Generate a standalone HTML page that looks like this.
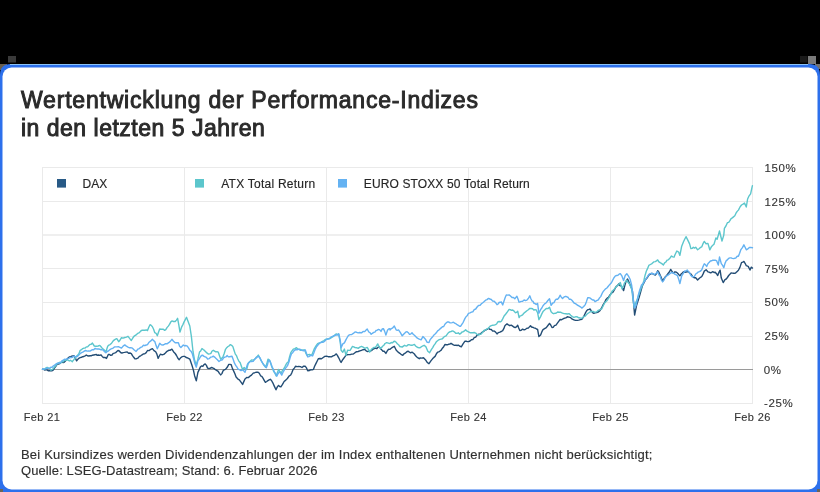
<!DOCTYPE html>
<html><head><meta charset="utf-8">
<style>
html,body{margin:0;padding:0;width:820px;height:492px;overflow:hidden;background:#000;}
body{position:relative;font-family:"Liberation Sans",sans-serif;}
.card{position:absolute;left:0;top:64px;width:820px;height:428px;box-sizing:border-box;border:3px solid #3273e6;border-radius:12px;background:#fff;}
.title{position:absolute;left:21px;top:86px;font-size:23px;font-weight:normal;-webkit-text-stroke:0.95px #2a2a2a;line-height:28px;color:#2b2b2b;white-space:nowrap;}
.l1{letter-spacing:0.8px}.l2{letter-spacing:0.5px}
.foot{position:absolute;left:21px;top:447.3px;font-size:13px;line-height:15.6px;color:#303030;-webkit-text-stroke:0.15px #303030;white-space:nowrap;}
.f1{letter-spacing:0.2px}.f2{letter-spacing:0.1px}
svg{position:absolute;left:0;top:0;}
.wc{will-change:transform;}
.ay{font-family:"Liberation Sans",sans-serif;font-size:11.5px;fill:#333;stroke:#333;stroke-width:0.12px;letter-spacing:0.6px;}
.ax{font-family:"Liberation Sans",sans-serif;font-size:11px;fill:#333;stroke:#333;stroke-width:0.12px;letter-spacing:0.4px;}
.lg{font-family:"Liberation Sans",sans-serif;font-size:12px;fill:#262626;stroke:#262626;stroke-width:0.15px;}
</style></head><body>
<svg width="820" height="492" viewBox="0 0 820 492" style="position:absolute;left:0;top:0">
  <rect x="8" y="56" width="8" height="6.5" fill="#3a3a3a"/>
  <rect x="800" y="56" width="7.5" height="6.5" fill="#1a1a1a"/>
  <rect x="808" y="56" width="8" height="8" fill="#7a7a7a"/>
  <rect x="0" y="64" width="7" height="6" fill="#6a6050"/>
  <rect x="815" y="64" width="5" height="5" fill="#707070"/>
  <path d="M0,492 L0,75 Q0,64 11,64 L809,64 Q820,64 820,75 L820,492 Z" fill="#2d70ec"/>
  <rect x="0" y="489" width="3" height="3" fill="#6a6458"/>
  <rect x="817" y="489" width="3" height="3" fill="#6a6458"/>
  <line x1="10" y1="64.5" x2="808" y2="64.5" stroke="#8cc4f8" stroke-width="1"/>
  <rect x="2.5" y="67.5" width="815" height="422" rx="9" ry="9" fill="#fff"/>
</svg>
<div class="title wc"><span class="l1">Wertentwicklung der Performance-Indizes</span><br><span class="l2">in den letzten 5 Jahren</span></div>
<svg class="wc" width="820" height="492" viewBox="0 0 820 492">
  <g stroke="#eaeaea" stroke-width="1" fill="none" shape-rendering="crispEdges">
    <line x1="42.5" y1="167.5" x2="753" y2="167.5"/>
    <line x1="42.5" y1="201.5" x2="753" y2="201.5"/>
    <line x1="42.5" y1="235" x2="753" y2="235" shape-rendering="geometricPrecision" stroke-width="1.3"/>
    <line x1="42.5" y1="268.5" x2="753" y2="268.5"/>
    <line x1="42.5" y1="302.5" x2="753" y2="302.5"/>
    <line x1="42.5" y1="336.5" x2="753" y2="336.5"/>
    <line x1="42.5" y1="403.5" x2="753" y2="403.5"/>
    <line x1="42.5" y1="167" x2="42.5" y2="403.5"/>
    <line x1="184.5" y1="167" x2="184.5" y2="403.5"/>
    <line x1="326.5" y1="167" x2="326.5" y2="403.5"/>
    <line x1="468.5" y1="167" x2="468.5" y2="403.5"/>
    <line x1="610.5" y1="167" x2="610.5" y2="403.5"/>
    <line x1="752.5" y1="167" x2="752.5" y2="403.5"/>
  </g>
  <line x1="42.5" y1="369.5" x2="753" y2="369.5" stroke="#9a9a9a" stroke-width="1" shape-rendering="crispEdges"/>
  <rect x="57" y="179" width="9" height="8.6" fill="#285a86"/>
  <text class="lg" x="82.6" y="187.6">DAX</text>
  <rect x="195" y="179" width="9" height="8.6" fill="#5cc6cc"/>
  <text class="lg" x="221.2" y="187.6" letter-spacing="0.25">ATX Total Return</text>
  <rect x="338" y="179" width="9" height="8.6" fill="#64b2f2"/>
  <text class="lg" x="363.8" y="187.6" letter-spacing="0.12">EURO STOXX 50 Total Return</text>
  <g class="ay">
    <text x="764.4" y="172">150%</text>
    <text x="764.4" y="205.6">125%</text>
    <text x="764.4" y="239.2">100%</text>
    <text x="764.4" y="272.7">75%</text>
    <text x="764.4" y="306.3">50%</text>
    <text x="764.4" y="340">25%</text>
    <text x="763.7" y="373.6">0%</text>
    <text x="764.0" y="407.3">-25%</text>
  </g>
  <g class="ax" text-anchor="middle">
    <text x="42" y="421">Feb 21</text>
    <text x="184.5" y="421">Feb 22</text>
    <text x="326.5" y="421">Feb 23</text>
    <text x="468.5" y="421">Feb 24</text>
    <text x="610.5" y="421">Feb 25</text>
    <text x="752.5" y="421">Feb 26</text>
  </g>
  <g fill="none" stroke-width="1.4" stroke-linejoin="round" stroke-linecap="round">
    <!--SERIES-->
    <path stroke="#234d75" d="M42.5,369.3 43.7,369.4 44.9,370.1 46.1,369.7 47.3,370.1 48.5,370.8 49.8,370.8 51.0,370.7 52.2,370.7 53.4,369.9 54.6,367.8 55.9,366.2 57.1,364.4 58.3,364.0 59.9,363.6 61.5,362.1 63.2,362.6 64.4,362.0 65.6,360.7 66.8,359.5 68.0,358.1 69.3,356.9 70.5,356.8 71.7,356.1 72.9,355.9 74.1,355.8 75.4,357.9 76.6,360.9 77.8,359.3 79.0,358.2 80.2,357.6 81.5,357.3 82.7,356.7 83.9,356.5 85.1,355.8 86.3,355.0 87.6,355.8 88.8,356.0 90.0,355.8 91.2,355.8 92.4,355.2 93.7,355.0 94.9,354.8 96.1,354.4 97.3,355.4 98.5,355.0 99.8,355.4 101.0,354.8 102.2,356.4 103.4,357.5 104.9,357.4 106.5,358.4 108.3,354.5 109.5,354.5 110.7,355.4 112.0,355.0 113.2,353.4 114.4,353.1 115.6,352.7 116.8,351.5 118.0,350.4 119.3,351.0 120.6,352.5 121.9,353.1 123.1,352.6 124.5,352.4 125.8,352.1 127.2,351.9 128.6,353.2 129.9,353.0 131.3,353.6 132.5,355.7 133.7,357.3 134.9,358.8 136.1,358.9 137.8,358.2 139.4,356.4 140.7,355.8 142.1,354.8 143.5,353.9 144.8,353.7 146.2,352.6 147.5,350.5 149.1,350.6 150.8,349.3 152.4,348.6 154.0,350.6 155.7,351.8 156.9,354.1 158.1,358.4 159.3,356.0 160.5,354.1 162.2,354.8 163.8,354.4 165.4,353.0 167.0,351.3 168.7,350.3 170.3,350.2 171.9,349.2 173.5,351.7 175.2,353.5 176.5,355.5 177.9,358.2 179.2,359.7 180.4,358.1 181.7,356.9 183.3,356.4 184.9,356.4 186.1,357.5 187.3,357.8 188.5,358.3 189.8,359.1 191.0,362.6 192.2,366.1 193.4,370.0 194.6,375.7 196.3,380.8 197.9,372.4 199.1,369.9 200.3,367.1 201.5,365.9 202.8,366.4 204.0,364.6 205.2,363.9 206.4,365.4 207.6,368.1 208.9,368.5 210.1,368.4 211.3,367.5 212.5,367.8 213.7,368.3 215.0,369.4 216.6,370.3 218.2,371.4 219.4,373.4 220.7,374.9 221.9,373.6 223.1,370.8 224.3,369.7 225.5,369.4 227.2,367.3 228.8,364.4 230.0,364.4 231.2,364.7 232.4,368.4 233.7,371.1 234.9,373.7 236.1,377.1 237.7,378.8 239.3,379.8 241.0,382.2 242.6,384.4 243.8,381.6 245.0,379.0 246.7,377.5 248.3,377.6 249.9,376.2 251.5,375.1 253.2,373.1 254.8,372.7 256.5,372.2 258.1,372.2 259.3,373.3 260.6,375.8 261.8,376.3 263.0,378.2 264.2,380.3 265.4,382.3 266.7,381.5 267.9,380.6 269.1,379.9 270.3,379.3 271.5,380.5 272.8,382.8 274.4,386.4 276.0,389.8 277.2,387.1 278.5,385.4 279.7,386.5 280.9,386.9 282.5,384.4 284.1,381.5 285.8,380.1 287.4,378.5 289.0,376.1 290.7,375.0 291.9,372.6 293.1,369.5 294.3,368.1 295.5,366.3 297.2,366.6 298.8,366.4 300.4,366.6 302.0,367.5 303.7,366.1 305.3,366.3 306.5,367.9 307.7,370.8 309.3,370.5 311.0,369.7 312.2,369.9 313.4,369.4 314.6,366.3 315.9,363.6 317.1,361.2 318.3,358.8 319.9,358.5 321.5,358.8 323.2,357.5 324.8,356.4 326.5,356.2 328.1,356.7 329.8,356.8 331.4,356.9 333.0,355.9 334.6,355.3 336.3,353.9 337.5,355.6 338.7,357.8 339.9,360.3 341.1,362.5 342.4,360.2 343.6,358.5 344.8,356.9 346.0,355.2 347.2,354.7 348.5,354.6 350.1,354.6 351.7,354.1 353.3,354.0 355.0,352.7 356.6,351.7 358.2,351.5 359.8,350.9 361.5,350.3 363.1,349.7 364.7,349.4 365.9,350.6 367.2,351.5 368.8,351.4 370.4,351.1 372.0,350.1 373.7,348.8 375.3,348.0 376.9,348.7 378.1,347.1 379.3,346.9 380.6,348.7 381.8,349.9 383.0,351.3 384.2,351.2 385.9,353.4 387.5,350.5 388.7,349.2 389.9,349.4 390.0,349.3 391.2,348.3 392.4,347.4 394.3,346.3 396.1,350.0 397.3,351.3 398.5,352.4 399.8,353.3 401.0,354.3 402.8,355.3 404.0,353.8 405.2,353.2 407.1,351.5 408.3,351.3 409.5,352.2 410.7,352.8 412.0,352.2 413.2,353.0 414.4,354.0 415.6,355.8 416.8,357.0 418.0,357.8 419.3,358.7 420.5,357.9 421.7,358.1 423.5,357.8 425.4,359.7 427.2,362.4 429.0,363.7 430.9,360.9 432.7,358.6 433.9,357.4 435.1,356.4 436.3,354.0 437.6,352.2 438.8,351.8 440.0,351.0 441.2,350.1 442.4,348.2 443.7,346.7 444.9,344.5 446.1,344.7 447.3,344.8 448.5,344.3 449.8,344.1 451.0,343.3 452.2,344.1 453.4,344.9 454.6,345.4 455.9,345.1 457.1,345.5 458.3,345.1 459.5,346.0 461.3,346.8 463.2,343.7 465.0,341.1 466.2,341.3 467.4,341.6 468.5,341.6 470.0,341.0 471.4,339.8 472.8,339.6 474.2,337.7 475.7,337.1 477.1,335.1 478.5,334.3 479.9,334.3 481.4,332.9 482.8,331.9 484.2,330.9 485.6,330.0 487.0,329.4 488.5,328.3 489.9,329.4 491.3,329.5 492.7,331.1 494.2,331.0 495.6,332.1 497.0,333.9 498.4,332.6 499.9,332.1 501.3,331.5 502.7,330.7 503.8,328.7 504.8,325.9 505.9,324.7 507.0,323.9 508.4,324.9 509.8,325.7 511.2,325.1 512.7,326.1 514.1,327.2 515.5,327.5 516.6,326.6 517.7,325.2 518.7,328.0 519.8,330.5 521.2,330.3 522.6,329.1 524.1,329.9 525.5,329.3 526.9,328.3 528.3,328.1 529.4,326.9 530.5,325.7 531.5,327.0 532.6,327.2 534.0,327.9 535.4,328.2 536.5,329.0 537.6,329.4 538.9,336.6 540.6,334.9 541.8,331.9 543.0,329.7 544.6,328.7 546.3,327.6 547.9,325.5 549.5,323.4 550.7,325.0 552.0,327.5 553.2,327.4 554.4,325.7 556.0,325.1 557.6,322.9 558.9,321.1 560.1,319.5 561.3,319.8 562.5,319.2 564.1,318.3 565.8,317.9 567.4,316.8 569.0,317.1 570.7,317.7 572.3,319.2 573.9,319.8 575.5,320.4 577.2,320.4 578.8,320.1 580.4,319.6 582.0,319.2 583.7,316.6 585.3,313.2 586.5,311.0 587.7,309.6 588.9,309.5 590.2,309.0 591.4,311.1 592.6,312.6 593.8,313.3 595.0,312.9 596.7,312.5 598.3,312.0 599.9,310.7 601.5,308.2 603.2,304.6 604.8,302.2 606.0,299.4 607.2,298.2 608.5,297.3 609.8,295.1 611.4,293.2 613.0,292.2 614.6,289.3 616.3,286.4 617.5,285.7 618.7,283.9 619.9,285.6 621.1,285.9 622.4,288.0 623.6,290.6 624.8,285.6 626.0,281.5 627.6,279.0 628.9,282.1 630.1,284.9 631.3,287.4 632.5,291.2 633.6,303.4 634.6,315.0 636.6,305.4 637.8,301.5 639.0,297.7 640.7,291.8 642.3,286.0 643.9,283.0 645.5,279.7 647.2,277.8 648.8,275.2 650.4,274.2 652.0,273.3 653.7,274.3 655.3,275.0 656.5,273.6 657.7,270.7 658.9,272.2 660.2,275.3 661.4,277.9 662.6,281.1 663.8,279.0 665.0,277.3 666.7,275.4 668.3,273.2 669.5,271.8 670.7,269.4 672.0,271.3 673.2,273.1 675.0,271.8 676.2,272.2 677.4,273.0 678.7,274.5 679.9,275.8 681.1,274.1 682.3,273.0 683.5,271.8 684.8,272.3 686.0,272.0 687.2,271.7 688.4,271.7 689.6,273.0 690.9,274.0 692.1,275.6 693.3,277.1 694.5,277.8 695.7,277.8 697.6,280.0 699.4,278.2 700.6,277.3 701.8,276.5 703.0,274.1 704.3,271.1 706.1,269.8 707.9,271.8 709.1,272.2 710.4,272.8 711.6,272.5 712.8,271.7 714.0,272.5 715.2,272.2 716.5,273.7 717.7,275.5 718.9,272.4 720.1,270.2 721.3,278.1 723.2,282.6 725.0,279.6 726.2,279.0 727.4,277.5 728.7,275.5 729.9,274.3 731.1,272.9 732.3,273.1 733.5,273.2 734.8,273.4 736.0,272.6 737.2,271.4 738.4,270.3 739.9,267.4 741.5,262.6 742.7,262.1 743.9,261.5 745.1,263.3 746.3,265.7 748.2,266.4 750.0,270.0 751.2,267.2 752.5,268.1"/>
    <path stroke="#5cc6cc" d="M42.5,369.3 43.7,369.2 44.9,368.9 46.1,367.8 47.3,367.5 48.5,368.1 49.8,368.7 51.0,370.2 52.2,369.5 53.4,368.5 54.6,366.9 55.9,365.5 57.1,363.8 58.3,363.0 59.5,362.3 60.7,363.0 62.0,361.5 63.2,361.7 64.4,360.3 65.6,360.3 66.8,360.0 68.0,360.0 69.3,361.0 70.5,360.3 72.3,361.7 74.1,359.3 75.4,357.9 76.6,356.0 77.8,355.1 79.0,353.5 80.2,350.3 81.5,349.7 82.7,348.6 83.9,348.1 85.1,348.0 86.3,346.9 87.6,346.9 88.8,345.5 90.0,344.4 91.2,344.3 92.4,343.1 94.3,346.0 95.5,346.3 96.7,346.2 98.2,346.0 99.8,345.4 101.0,346.8 102.2,348.2 104.0,349.8 105.9,351.9 107.7,346.3 108.9,345.1 110.1,344.6 111.6,343.2 113.2,340.9 114.4,339.9 115.6,339.2 116.8,338.7 118.7,341.7 120.1,340.0 121.5,337.7 123.1,338.1 124.8,337.5 126.4,337.1 128.0,336.3 129.6,338.4 131.3,340.5 132.9,337.8 134.5,335.8 136.1,334.9 137.8,333.3 139.4,332.7 140.6,331.1 141.8,330.3 143.5,330.1 145.1,330.2 146.3,329.9 147.5,330.6 148.7,327.5 150.0,324.7 151.2,325.4 152.4,326.7 153.6,329.2 154.8,332.7 156.1,333.3 157.3,335.7 158.5,332.3 159.7,328.9 160.9,329.2 162.2,329.3 163.4,329.3 164.6,330.4 165.8,329.6 167.0,327.6 168.3,326.1 169.5,324.3 170.7,322.1 171.9,320.9 173.5,321.5 175.2,321.5 176.4,320.1 177.6,318.3 178.8,324.8 180.0,332.1 181.7,326.8 182.9,324.6 184.1,321.9 185.3,319.6 186.5,317.3 188.1,321.6 189.8,326.0 191.4,336.6 193.0,351.5 194.6,360.3 196.3,364.9 197.9,359.2 199.5,352.1 200.7,350.9 202.0,348.5 203.2,349.5 204.4,350.4 206.0,352.1 207.2,353.1 208.5,354.1 209.7,353.9 210.9,353.4 212.1,351.0 213.3,350.3 214.6,351.1 215.8,351.9 217.0,351.6 218.2,352.1 219.4,355.5 220.7,359.2 221.9,358.0 223.1,356.6 224.3,353.2 225.5,349.3 226.7,347.7 228.0,346.5 229.2,345.8 230.4,344.6 231.6,345.3 232.8,346.4 234.1,350.5 235.3,354.1 236.5,355.7 237.7,358.8 238.9,361.1 240.2,362.8 241.4,366.3 242.6,369.6 244.2,367.5 245.4,368.8 246.7,369.5 248.3,363.1 249.9,361.5 251.5,359.9 253.2,360.1 254.8,359.3 255.9,357.5 257.1,356.7 258.3,355.1 259.5,357.4 260.7,359.8 262.0,362.0 263.2,364.0 264.4,365.8 265.6,367.3 266.8,363.8 268.0,359.1 269.7,360.3 271.3,365.4 272.5,368.5 273.7,371.4 275.0,373.4 276.2,375.9 277.4,372.8 278.6,369.5 279.8,371.5 281.1,373.2 282.3,370.8 283.5,369.3 284.7,367.1 285.9,364.7 287.2,362.7 288.4,361.7 289.6,356.6 290.8,352.6 292.0,350.9 293.3,349.1 294.9,348.6 296.5,347.6 297.7,349.0 298.9,349.2 300.2,350.2 301.4,350.3 303.0,350.0 304.6,349.9 305.9,353.3 307.1,355.4 308.3,354.6 309.5,354.4 310.7,355.1 312.0,354.6 313.2,351.5 314.4,348.6 316.0,345.8 317.6,343.6 319.3,342.9 320.9,342.6 322.5,341.4 324.1,340.6 325.3,339.4 326.5,339.1 328.1,338.7 329.8,338.7 331.4,337.7 333.0,336.7 334.6,335.2 336.3,333.9 337.5,334.4 338.7,334.2 340.3,342.7 341.1,350.2 342.8,352.3 344.4,349.1 346.0,355.4 347.6,350.2 348.9,350.4 350.1,350.3 351.3,348.3 352.5,346.4 353.7,346.9 355.0,347.5 356.6,347.7 358.2,348.4 359.8,347.1 361.5,346.4 363.1,347.1 364.7,348.3 365.9,347.8 367.2,347.4 368.4,349.4 369.6,352.1 370.8,350.2 372.0,348.7 373.7,347.5 375.3,347.4 376.5,345.9 377.7,343.9 378.9,346.4 380.2,348.4 381.4,347.7 382.6,346.2 383.8,345.3 385.0,343.5 386.7,342.6 388.3,343.1 390.0,343.6 391.2,342.5 392.4,342.9 393.7,341.5 394.9,341.2 396.1,342.2 397.3,343.8 398.5,344.7 399.8,346.5 401.0,346.8 402.2,347.1 403.4,346.1 404.6,345.3 405.9,346.0 407.1,345.7 408.3,344.6 409.5,344.8 410.7,345.2 412.0,345.3 413.2,344.8 414.4,344.4 415.6,346.0 416.8,346.9 418.0,347.5 419.3,347.9 420.5,347.5 421.7,346.5 422.9,345.8 424.1,345.3 426.0,346.9 427.8,351.3 429.6,352.7 431.5,349.3 432.7,347.6 433.9,345.4 435.1,343.9 436.3,341.8 437.6,340.7 438.8,339.8 440.0,339.4 441.2,339.1 442.4,338.8 443.7,337.2 444.9,336.3 446.1,335.8 447.3,334.2 448.5,332.6 449.8,331.8 451.0,331.6 452.2,330.9 453.4,331.2 454.6,332.1 455.9,333.4 457.1,333.3 458.3,332.8 459.5,334.0 460.7,333.5 462.0,332.0 463.2,331.8 464.4,330.9 465.6,329.7 467.1,331.2 468.5,331.8 470.0,332.7 471.4,332.8 472.8,332.8 474.2,332.5 475.7,333.1 477.1,334.4 478.5,335.1 479.9,334.3 481.4,333.8 482.8,331.9 484.2,330.3 485.6,330.1 487.0,328.8 488.5,328.1 489.9,326.4 491.3,325.6 492.7,325.2 494.2,325.1 495.6,324.7 496.7,323.8 497.7,322.0 499.1,321.5 500.6,321.8 501.6,320.9 502.7,318.9 504.1,316.0 505.6,314.2 506.7,312.8 507.9,311.1 509.1,309.4 510.3,309.7 511.5,310.4 512.7,310.0 514.1,311.1 515.5,312.7 516.6,312.3 517.7,311.2 519.1,317.6 520.1,315.9 521.2,315.6 522.6,314.8 524.1,313.0 525.5,311.9 526.9,310.7 528.3,309.7 529.8,308.4 531.2,308.5 532.6,308.8 533.8,310.0 535.0,309.7 536.2,309.9 537.6,312.7 538.9,319.7 540.6,316.6 541.8,313.9 543.0,311.6 544.6,310.1 546.3,308.4 547.9,308.6 549.5,307.2 551.1,311.8 552.4,313.1 553.6,313.7 554.8,313.3 556.0,313.2 557.6,312.0 559.3,312.2 560.9,312.3 562.5,313.1 564.1,313.6 565.8,313.8 567.4,314.0 569.0,313.6 570.7,315.2 572.3,316.6 573.9,317.4 575.5,316.8 577.2,316.8 578.8,317.8 580.4,318.0 582.0,318.1 583.7,316.7 585.3,316.2 586.9,314.1 588.5,313.0 590.2,311.9 591.8,311.4 593.4,311.5 595.0,312.4 596.7,311.9 598.3,310.3 599.9,309.7 601.5,309.2 603.2,305.8 604.8,302.7 606.0,301.5 607.2,300.5 608.9,297.7 610.6,294.6 612.2,291.1 613.8,289.8 615.4,287.7 617.1,285.6 618.7,284.7 620.3,282.5 622.0,288.7 623.2,286.4 624.4,283.2 625.6,281.6 626.8,280.2 628.0,282.3 629.3,283.8 630.5,286.4 631.7,289.3 632.9,298.5 634.1,307.4 635.8,302.4 637.0,300.2 638.2,296.8 639.8,291.9 641.5,287.3 642.7,284.7 643.9,280.4 645.1,275.2 646.3,271.2 647.6,268.4 648.8,265.4 650.4,264.5 652.0,263.6 653.7,261.9 655.3,261.6 656.5,260.9 657.7,259.9 658.9,261.8 660.2,262.7 661.8,263.6 663.4,265.0 664.6,262.8 665.9,262.0 667.1,260.2 668.3,259.8 669.9,258.2 671.5,256.0 672.8,256.8 674.0,257.2 675.0,254.7 676.8,251.0 678.7,252.2 679.9,255.4 681.7,246.2 683.5,241.8 684.8,239.0 686.0,236.7 687.8,240.1 689.6,243.9 690.9,248.6 692.1,248.4 693.3,247.2 694.5,248.1 695.7,247.2 697.6,249.8 699.4,248.5 700.6,247.3 701.8,246.8 703.0,243.7 704.3,241.4 706.1,243.8 707.9,243.4 709.8,249.8 711.6,246.4 712.8,245.2 714.0,244.2 715.9,237.9 717.1,239.2 718.3,235.2 719.5,231.0 720.7,236.0 722.0,241.0 723.8,235.1 724.4,228.3 725.9,226.0 727.4,222.7 728.7,222.3 729.9,220.7 731.1,218.6 732.3,217.9 733.5,216.9 734.8,215.8 736.0,213.2 737.2,211.4 738.4,210.1 739.9,207.2 741.5,205.0 743.0,204.1 744.5,203.1 746.3,207.0 747.6,199.0 749.1,195.8 750.6,193.8 752.4,185.6"/>
    <path stroke="#64b2f2" d="M42.5,369.3 43.7,369.0 44.9,368.9 46.1,368.9 47.3,368.2 48.5,368.1 49.8,368.0 51.0,367.2 52.2,367.2 53.4,365.8 54.6,365.2 55.9,364.0 57.1,363.3 58.3,362.9 59.5,363.1 60.7,362.4 62.0,360.8 63.2,360.2 64.4,359.2 65.6,359.4 66.8,359.0 68.0,358.6 69.3,358.1 70.5,357.4 71.7,357.5 72.9,357.1 74.1,356.0 75.4,356.9 76.6,356.8 77.8,356.1 79.0,354.9 80.2,353.6 81.5,352.7 82.7,352.1 83.9,351.3 85.5,350.5 87.2,351.1 88.8,351.0 90.0,351.1 91.2,350.4 92.4,349.7 93.7,349.7 94.9,348.5 96.1,348.8 97.3,349.0 98.5,348.9 99.8,349.2 101.0,349.8 102.2,349.8 103.4,350.2 104.6,351.7 105.9,352.8 107.1,351.5 108.3,351.0 109.5,349.9 110.7,349.2 112.0,348.5 113.2,348.1 114.4,346.9 115.6,346.9 116.8,346.9 118.4,346.7 119.9,347.3 121.5,348.1 123.1,346.1 124.8,344.9 126.4,346.2 128.0,347.1 129.6,347.8 131.3,347.8 132.5,348.2 133.7,349.4 134.9,350.5 136.1,351.4 137.8,349.2 139.4,348.6 140.7,347.3 142.1,346.8 143.5,345.2 144.8,345.7 146.2,345.0 147.5,344.6 149.1,342.2 150.8,340.9 152.4,339.3 153.6,340.6 154.8,341.5 156.1,345.6 157.3,348.8 158.5,346.1 159.7,343.3 161.3,344.8 163.0,345.0 164.3,344.4 165.7,343.6 167.0,343.8 168.7,342.7 170.3,341.4 171.9,339.3 173.5,341.2 175.2,342.8 176.8,342.8 178.4,342.8 179.6,346.3 180.9,347.6 182.1,346.3 183.3,345.0 184.6,345.8 186.0,345.5 187.3,346.2 188.5,347.8 189.8,350.2 191.0,351.2 192.2,353.4 193.4,357.7 194.6,362.7 196.3,367.2 197.9,360.5 199.1,359.1 200.3,357.0 201.5,355.5 202.8,355.2 204.0,356.4 205.2,356.9 206.4,357.4 207.6,359.0 209.3,358.6 210.9,357.1 212.1,356.9 213.3,356.2 214.6,357.1 215.8,358.2 217.4,359.7 219.0,361.5 220.7,360.2 222.3,359.8 223.5,357.8 224.7,357.1 225.9,356.9 227.2,355.6 228.4,356.9 229.6,356.7 230.8,356.5 232.0,356.3 233.3,359.7 234.5,363.2 235.7,365.4 236.9,367.0 238.1,369.2 239.3,369.7 241.0,370.5 242.6,369.8 243.8,370.9 245.0,372.2 246.3,368.0 247.5,364.3 248.7,363.0 249.9,361.6 251.5,361.6 253.2,361.4 254.8,358.9 256.5,357.9 257.7,356.5 258.9,356.5 260.2,358.2 261.4,360.9 262.6,363.2 263.8,364.8 265.0,365.9 266.3,367.7 267.5,364.7 268.7,359.9 270.3,361.8 272.0,366.6 273.2,369.0 274.4,372.1 275.6,373.5 276.8,376.1 278.0,373.8 279.3,371.8 280.5,373.0 281.7,375.1 282.9,372.5 284.1,370.4 285.4,368.4 286.6,366.8 287.8,365.0 289.0,361.8 290.2,357.3 291.5,353.7 292.7,352.7 293.9,350.9 295.5,349.6 297.2,349.7 298.4,349.4 299.6,349.2 300.8,349.6 302.0,350.3 303.7,350.9 305.3,349.9 306.5,353.5 307.7,356.9 308.9,356.6 310.2,355.7 311.4,355.4 312.6,355.9 313.8,353.0 315.0,349.7 316.7,346.5 318.3,344.5 319.9,342.9 321.5,342.0 323.2,342.3 324.8,341.1 326.5,339.3 328.1,339.1 329.8,338.0 331.4,336.8 333.0,336.1 334.6,335.5 336.3,334.9 337.5,335.1 338.7,333.7 340.3,340.9 341.1,347.7 342.8,343.9 344.4,342.9 346.0,339.6 347.2,337.5 348.5,335.3 350.1,334.6 351.7,334.5 353.3,333.4 355.0,331.9 356.6,332.3 358.2,332.9 359.8,332.5 361.5,332.9 363.1,331.5 364.7,331.6 365.9,330.2 367.2,329.0 368.8,332.0 370.0,332.7 371.2,334.3 372.4,333.3 373.7,332.4 374.9,332.1 376.1,330.5 377.3,330.1 378.5,329.4 379.8,329.9 381.0,331.4 382.2,329.0 383.4,328.6 384.6,331.1 385.9,335.1 387.5,330.3 388.7,328.9 389.9,328.6 390.0,330.0 391.2,328.7 392.4,328.2 394.3,326.0 396.1,329.8 397.3,330.3 398.5,329.9 400.4,332.7 402.2,335.8 403.4,334.5 404.6,333.3 405.9,331.9 407.1,331.8 408.3,332.7 409.5,334.4 410.7,334.1 412.0,332.8 413.2,334.3 414.4,335.3 416.2,337.1 417.4,338.1 418.7,338.8 419.9,339.3 421.1,339.8 422.9,336.6 424.1,337.8 425.4,339.2 427.2,342.4 429.0,342.5 430.2,339.6 431.5,338.0 432.7,336.7 433.9,335.1 435.1,334.0 436.3,332.8 437.6,330.9 438.8,330.1 440.0,328.9 441.2,327.9 442.4,326.7 443.7,326.5 444.9,324.2 446.1,323.0 447.3,322.0 448.5,321.9 449.8,322.7 451.0,322.9 452.2,322.6 453.4,322.2 454.6,323.1 455.9,323.7 457.1,324.7 458.3,325.3 459.5,326.3 460.7,326.2 462.0,324.1 463.2,322.3 465.0,318.4 466.2,316.5 467.4,315.4 468.5,313.3 470.0,312.8 471.4,312.1 472.8,311.8 474.2,309.6 475.7,309.0 477.1,307.0 478.5,305.5 479.9,305.4 481.4,303.8 482.8,302.7 484.2,301.5 485.6,300.2 487.0,299.6 488.5,298.4 489.9,299.0 491.3,299.5 492.7,301.1 494.2,301.2 495.6,302.7 497.0,304.7 498.1,304.0 499.1,302.5 500.2,302.3 501.3,301.9 502.7,304.9 504.1,300.8 505.2,297.6 506.3,294.9 507.7,295.1 509.1,294.9 510.5,296.0 512.0,297.5 513.4,297.5 514.8,298.7 515.9,297.4 516.9,296.2 518.0,299.1 519.1,302.2 520.1,301.9 521.2,301.4 522.6,301.3 524.1,299.9 525.5,300.6 526.9,300.1 528.3,298.5 529.8,295.8 530.8,298.5 531.9,300.8 533.0,301.4 534.0,303.3 535.1,303.6 536.2,304.5 537.6,303.4 538.9,313.3 540.6,309.7 541.8,308.0 543.0,305.7 544.6,303.9 546.3,302.7 547.9,300.5 549.5,298.7 551.1,305.3 552.8,303.0 554.0,302.6 555.2,300.2 556.4,299.1 557.6,299.2 558.9,297.7 560.1,295.2 561.3,297.1 562.5,298.5 564.1,296.9 565.8,296.3 567.0,296.9 568.2,297.5 569.4,299.4 570.7,299.3 571.9,300.3 573.1,301.8 574.3,303.3 575.5,303.6 577.2,305.0 578.8,305.8 580.4,306.8 582.0,308.1 583.7,306.5 585.3,304.6 586.5,301.4 587.7,297.8 588.9,297.7 590.2,298.1 591.4,299.2 592.6,300.0 593.8,300.0 595.0,301.7 596.7,300.6 598.3,299.8 599.5,297.9 600.7,296.6 602.0,293.7 603.2,291.5 604.4,290.1 605.6,288.8 606.9,288.0 608.1,286.5 609.8,284.4 611.4,282.7 612.6,280.4 613.8,278.0 615.4,275.9 616.7,275.5 617.9,275.3 619.1,274.2 620.3,273.6 622.0,276.2 623.6,280.5 625.2,275.5 626.8,273.7 628.5,276.1 630.1,279.2 631.7,285.5 633.3,299.1 634.6,308.0 636.1,305.3 637.2,300.2 638.2,295.4 639.8,289.8 641.5,285.1 643.1,283.4 644.7,281.2 646.3,278.5 648.0,275.8 649.6,273.8 651.2,273.3 652.8,273.7 654.5,274.5 656.1,273.2 657.7,271.7 658.9,274.7 660.2,276.3 661.4,280.0 662.6,281.9 663.8,280.4 665.0,277.8 666.7,275.9 668.3,274.9 669.9,273.7 671.5,272.7 673.2,272.7 674.8,274.3 675.0,274.2 676.2,274.8 677.4,275.6 678.7,279.2 679.9,283.5 681.7,275.9 683.2,273.6 684.8,270.9 686.0,271.1 687.2,269.9 688.4,271.7 689.6,272.8 690.9,275.6 692.1,276.7 693.3,276.7 694.5,276.3 695.7,274.0 697.0,273.2 698.2,272.0 699.4,271.6 700.6,271.0 701.8,269.7 703.0,266.6 704.3,263.8 705.5,264.8 706.7,266.4 707.9,263.8 709.1,262.4 710.4,261.0 711.6,260.8 712.8,260.2 714.0,260.3 715.2,260.3 716.5,260.6 718.3,265.1 719.5,257.0 721.3,263.6 722.6,265.4 723.8,267.7 725.0,263.4 726.2,260.7 727.4,259.9 728.7,258.3 729.9,257.9 731.1,257.9 732.3,258.4 733.5,258.6 734.8,258.3 736.0,257.8 737.2,256.3 738.4,256.3 739.6,253.2 740.9,249.6 742.4,247.6 743.9,244.8 745.1,247.2 746.3,249.8 748.2,248.6 749.4,247.5 750.6,247.4 752.5,247.7"/>
    <!--/SERIES-->
  </g>
</svg>
<div class="foot wc"><span class="f1">Bei Kursindizes werden Dividendenzahlungen der im Index enthaltenen Unternehmen nicht berücksichtigt;</span><br><span class="f2">Quelle: LSEG-Datastream; Stand: 6. Februar 2026</span></div>
</body></html>
